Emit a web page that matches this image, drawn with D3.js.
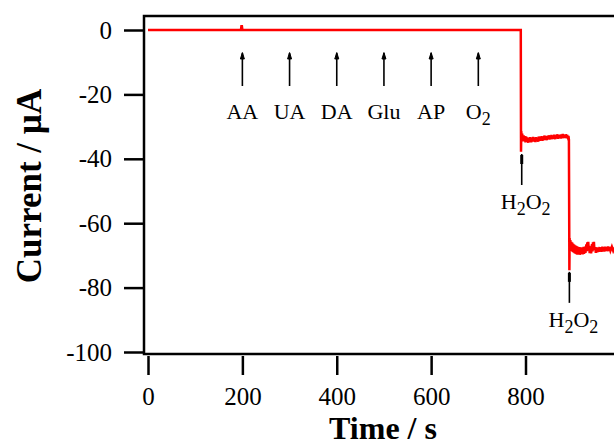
<!DOCTYPE html>
<html>
<head>
<meta charset="utf-8">
<script src="https://cdn.jsdelivr.net/npm/d3@7"></script>
<style>
  html, body { margin: 0; padding: 0; background: #fff; }
  svg { display: block; font-family: "Liberation Serif", "Times New Roman", serif; }
</style>
</head>
<body>
<div id="chart"></div>
<script>
// amperometric i-t trace (time in s, current in µA)
const flatTimes    = [0, 197, 198, 199, 200, 790];
const flatCurrents = [0, 0, 1.2, 1.2, 0, 0];

const step1Times    = [790.5, 791, 792, 793, 794, 796, 797, 798, 800, 801, 803, 804, 806, 807, 809, 810, 812, 813, 815, 816, 818, 819, 821, 822, 824, 825, 827, 828, 830, 831, 833, 834, 836, 837, 839, 840, 842, 843, 845, 846, 848, 849, 851, 852, 854, 855, 857, 858, 860, 861, 863, 864, 866, 867, 869, 870, 872, 873, 875, 876, 878, 879, 881, 882, 884, 885, 887, 888, 890, 891, 892];
const step1Currents = [-37.8, -31.4, -33.9, -32.2, -34.6, -32.7, -34.4, -33.0, -34.9, -33.1, -34.6, -33.4, -35.0, -33.5, -34.8, -33.3, -34.9, -33.6, -34.7, -33.2, -34.6, -33.5, -34.8, -33.3, -34.5, -33.4, -34.7, -33.1, -34.4, -33.2, -34.3, -33.0, -34.4, -33.1, -34.2, -32.8, -34.1, -33.0, -34.2, -32.9, -33.9, -32.7, -34.0, -32.8, -33.8, -32.6, -33.9, -32.8, -33.7, -32.5, -33.9, -32.7, -33.6, -32.4, -33.8, -32.6, -33.5, -32.5, -33.7, -32.4, -33.5, -32.3, -33.6, -32.5, -33.4, -32.4, -33.6, -32.6, -33.5, -32.9, -34.0];

const step2Times    = [893, 893.5, 894, 895, 896, 897, 898, 899, 900, 901, 902, 903, 904, 905, 906, 907, 908, 909, 910, 911, 912, 914, 915, 917, 918, 920, 921, 923, 924, 926, 927, 929, 930, 931, 932, 933, 934, 935, 936, 938, 939, 941, 942, 943, 944, 945, 946, 948, 949, 951, 952, 954, 955, 957, 958, 960, 961, 963, 964, 966, 967, 969, 970, 972, 973, 975, 976, 978, 980, 983, 986, 990, 995, 1000];
const step2Currents = [-74.6, -64.6, -67.4, -65.2, -68.3, -65.8, -68.6, -66.0, -68.9, -66.4, -69.1, -66.6, -69.3, -66.9, -69.5, -67.0, -69.6, -67.2, -69.8, -67.3, -69.7, -67.4, -69.8, -67.5, -69.6, -67.6, -69.7, -67.4, -69.5, -67.3, -69.2, -66.6, -68.7, -65.9, -67.9, -65.8, -68.5, -67.0, -69.3, -67.6, -69.4, -66.5, -68.8, -65.9, -67.7, -65.8, -68.3, -67.4, -69.2, -67.5, -69.0, -67.6, -68.9, -67.4, -68.8, -67.5, -68.9, -67.3, -68.7, -67.4, -68.8, -67.3, -68.6, -67.4, -68.7, -67.2, -68.6, -67.4, -68.5, -67.3, -68.6, -67.4, -68.5, -67.6];

// injection arrows
const injTimes  = [200, 300, 400, 500, 600, 700];
const injLabels = ["AA", "UA", "DA", "Glu", "AP", "O|2"];
const h2o2Times = [792, 893];
const h2o2Tops  = [-38.2, -74.8];

const xTicks = [0, 200, 400, 600, 800];
const yTicks = [0, -20, -40, -60, -80, -100];

const W = 614, H = 446;
const svg = d3.select("#chart").append("svg")
  .attr("width", W).attr("height", H);

const x = d3.scaleLinear().domain([0, 800]).range([148, 525.5]);
const y = d3.scaleLinear().domain([0, -100]).range([30, 352]);

const frameTop = y(4.35), frameBottom = 354, frameLeft = 144;
const plainNum = d => String(d); // hyphen minus like the original

// y axis ticks (outward)
const yAxis = svg.append("g")
  .attr("transform", `translate(${frameLeft},0)`)
  .call(d3.axisLeft(y).tickValues(yTicks).tickSize(20).tickPadding(12).tickFormat(plainNum));
yAxis.select(".domain").remove();
yAxis.selectAll("line").attr("stroke", "#000").attr("stroke-width", 2.5);
yAxis.selectAll("text").attr("fill", "#000").style("font-size", "25px").style("font-family", "Liberation Serif");

// x axis ticks (outward)
const xAxis = svg.append("g")
  .attr("transform", `translate(0,${frameBottom + 2})`)
  .call(d3.axisBottom(x).tickValues(xTicks).tickSize(19).tickPadding(12).tickFormat(plainNum));
xAxis.select(".domain").remove();
xAxis.selectAll("line").attr("stroke", "#000").attr("stroke-width", 2.5);
xAxis.selectAll("text").attr("fill", "#000").style("font-size", "25px").style("font-family", "Liberation Serif");

// frame
svg.append("path")
  .attr("d", `M${W + 5},${frameTop}H${frameLeft}V${frameBottom}H${W + 5}`)
  .attr("fill", "none").attr("stroke", "#000").attr("stroke-width", 2.5);

// trace
const trace = [];
flatTimes.forEach((t, i) => trace.push([t, flatCurrents[i]]));
step1Times.forEach((t, i) => trace.push([t, step1Currents[i]]));
step2Times.forEach((t, i) => trace.push([t, step2Currents[i]]));

svg.append("path")
  .datum(trace)
  .attr("fill", "none")
  .attr("stroke", "#ff0000")
  .attr("stroke-width", 2.5)
  .attr("stroke-linejoin", "miter")
  .attr("d", d3.line().x(d => x(d[0])).y(d => y(d[1])));

// sub-scripted label helper ("O|2" -> O with subscript 2)
function chem(g, label) {
  const parts = label.split("|");
  const t = g.append("text").attr("text-anchor", "middle").attr("fill", "#000")
    .style("font-size", "22px");
  parts.forEach((p, i) => {
    if (i === 0) { t.append("tspan").text(p); return; }
    // first char is the subscript digit
    t.append("tspan").attr("dy", 6).style("font-size", "18px").text(p[0]);
    if (p.length > 1) t.append("tspan").attr("dy", -6).text(p.slice(1));
  });
  return t;
}

// analyte arrows
const arrows = svg.append("g");
injTimes.forEach((t, i) => {
  const ax = x(t);
  arrows.append("line")
    .attr("x1", ax).attr("x2", ax)
    .attr("y1", y(-17.4)).attr("y2", y(-7.2))
    .attr("stroke", "#000").attr("stroke-width", 1.6);
  arrows.append("path")
    .attr("d", `M${ax - 2},${y(-9)}L${ax},${y(-7)}L${ax + 2},${y(-9)}Z`)
    .attr("fill", "#000").attr("stroke", "#000").attr("stroke-width", 1);
  chem(arrows, injLabels[i]).attr("x", ax).attr("y", 119);
});

// H2O2 arrows
h2o2Times.forEach((t, i) => {
  const ax = x(t);
  const top = y(h2o2Tops[i]) + 1;
  arrows.append("line")
    .attr("x1", ax).attr("x2", ax)
    .attr("y1", top).attr("y2", top + 31)
    .attr("stroke", "#000").attr("stroke-width", 1.6);
  arrows.append("line")
    .attr("x1", ax).attr("x2", ax)
    .attr("y1", top + 1).attr("y2", top + 10)
    .attr("stroke", "#000").attr("stroke-width", 3);
  chem(arrows, "H|2O|2").attr("x", ax + 4).attr("y", top + 55);
});

// axis titles
svg.append("text")
  .attr("x", 383).attr("y", 439)
  .attr("text-anchor", "middle")
  .style("font-size", "32px").style("font-weight", "bold")
  .text("Time / s");

svg.append("text")
  .attr("transform", "translate(41,186) rotate(-90)")
  .attr("text-anchor", "middle")
  .style("font-size", "35px").style("font-weight", "bold")
  .text("Current / µA");
</script>
</body>
</html>
